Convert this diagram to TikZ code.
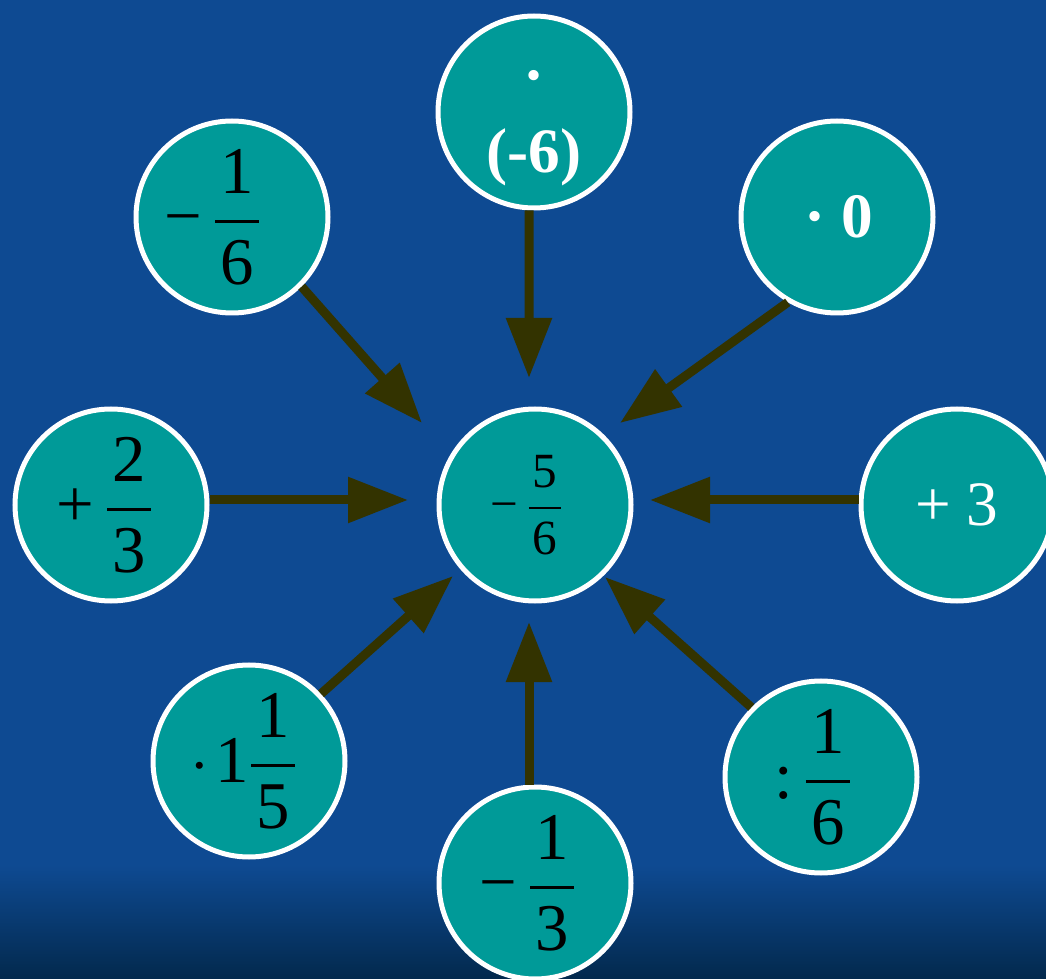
\RequirePackage{fix-cm}
\documentclass[tikz,border=0pt]{standalone}
\usepackage{amsmath}
\usepackage{fontspec}
\setmainfont{Liberation Serif}
\usepackage{tikz}
\usetikzlibrary{arrows.meta, backgrounds}
\definecolor{bgblue}{HTML}{0E4A92}
\definecolor{bgdark}{HTML}{03294D}
\definecolor{ballteal}{HTML}{009A98}
\definecolor{arrowcolor}{HTML}{333300}
\newcommand{\opfrac}[2]{\genfrac{}{}{0.045em}{0}%
    {\kern0.08em\text{#1}\kern0.08em}{\text{#2}}}

\begin{document}
\begin{tikzpicture}[
    ball/.style={circle, draw=white, fill=ballteal, line width=0.1cm,
                 minimum size=3.84cm, inner sep=0pt,
                 font=\fontsize{38}{44}\selectfont},
    whiteball/.style={ball, text=white,
                      font=\fontsize{36}{44}\selectfont\bfseries},
    arr/.style={-{Triangle[length=1.2cm, width=0.88cm]},
                line width=0.18cm, draw=arrowcolor}
]
    \useasboundingbox (0, 0) rectangle (20.92, -19.58);

    % Centre
    \node[ball, font=\fontsize{28}{34}\selectfont] (c) at (10.70, -10.10)
         {−\,$\opfrac{5}{6}$\kern9pt};

    % Ring of operations
    \node[whiteball, align=center] (t) at (10.68, -2.24)
         {\rule{0pt}{33pt}·\\[-1pt](-6)};
    \node[ball] (tl) at (4.64, -4.34) {−\,$\opfrac{1}{6}$\kern21.6pt};
    \node[whiteball] (tr) at (16.74, -4.34) {\kern2pt· 0};
    \node[ball] (l) at (2.22, -10.10) {+\,$\opfrac{2}{3}$\kern6.8pt};
    \node[ball, text=white, font=\fontsize{36}{44}\selectfont] (r)
         at (19.14, -10.10) {+ 3};
    \node[ball] (bl) at (4.98, -15.22) {$\cdot$\kern4pt 1$\opfrac{1}{5}$\kern6pt};
    \node[ball] (b) at (10.70, -17.66) {−\,$\opfrac{1}{3}$\kern8pt};
    \node[ball] (br) at (16.42, -15.54) {:\,$\opfrac{1}{6}$\kern9pt};

    % Arrows into the centre
    \draw[arr] ([xshift=-0.1cm]t.south) -- ([shift={(-0.12, 2.54)}]c.center);
    \draw[arr] (tl.-45) -- ([shift={(-2.26, 1.64)}]c.center);
    \draw[arr] (tr.240) -- ([shift={(1.70, 1.64)}]c.center);
    \draw[arr] ([yshift=0.1cm]l.east) -- ([shift={(-2.54, 0.10)}]c.center);
    \draw[arr] ([yshift=0.1cm]r.west) -- ([shift={(2.30, 0.10)}]c.center);
    \draw[arr] (bl.43) -- ([shift={(-1.64, -1.42)}]c.center);
    \draw[arr] ([xshift=-0.12cm]b.north) -- ([shift={(-0.12, -2.34)}]c.center);
    \draw[arr] (br.135) -- ([shift={(1.40, -1.44)}]c.center);

    % Background
    \begin{scope}[on background layer]
        \fill[bgblue] (0, 0) rectangle (20.92, -17.3);
        \shade[top color=bgblue, bottom color=bgdark]
              (0, -17.3) rectangle (20.92, -19.58);
    \end{scope}
\end{tikzpicture}
\end{document}
